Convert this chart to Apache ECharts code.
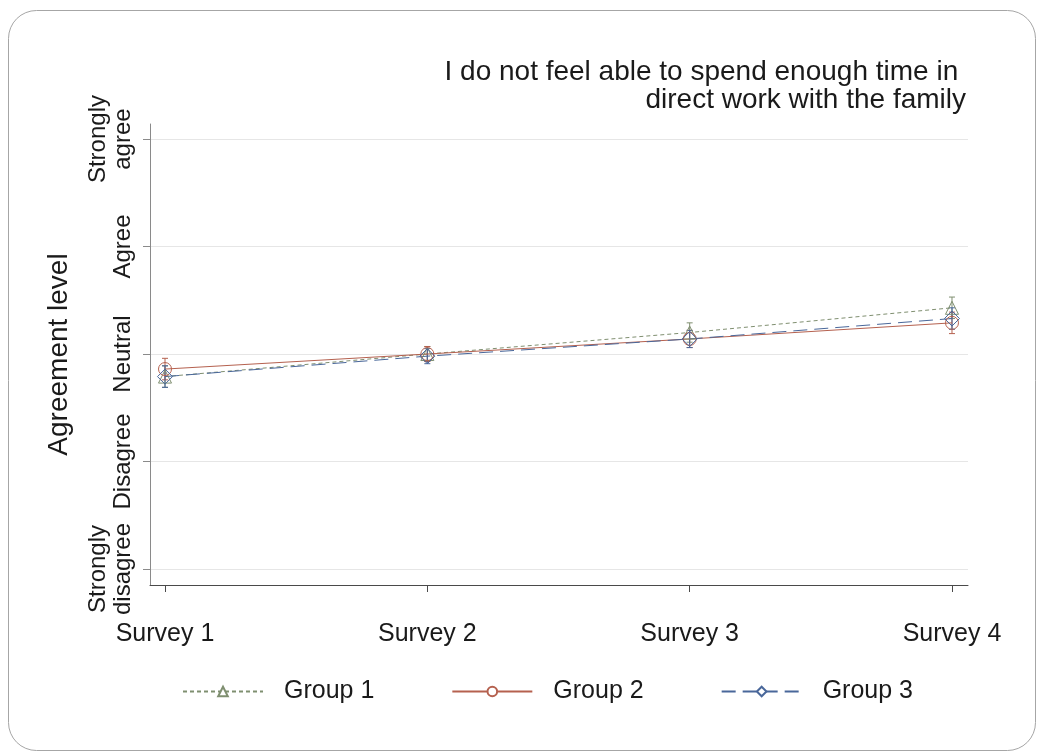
<!DOCTYPE html>
<html>
<head>
<meta charset="utf-8">
<script src="https://cdn.jsdelivr.net/npm/echarts@6/dist/echarts.min.js"></script>
<style>
  html, body { margin: 0; padding: 0; background: #fff; }
  #chart { width: 1037px; height: 753px; }
</style>
</head>
<body>
<div id="chart"></div>
<script>
// Survey waves and agreement scale
const surveys = ['Survey 1', 'Survey 2', 'Survey 3', 'Survey 4'];
const levelLabels = ['Strongly\ndisagree', 'Disagree', 'Neutral', 'Agree', 'Strongly\nagree'];
const levelValues = [1, 2, 3, 4, 5];
const chartTitle = 'I do not feel able to spend enough time in \ndirect work with the family';

// Mean agreement per group and survey, with confidence half-widths
const group1Mean = [2.79, 3.00, 3.20, 3.43];
const group1Err  = [0.10, 0.07, 0.09, 0.10];
const group2Mean = [2.86, 3.00, 3.14, 3.29];
const group2Err  = [0.10, 0.07, 0.08, 0.10];
const group3Mean = [2.79, 2.98, 3.14, 3.33];
const group3Err  = [0.10, 0.07, 0.08, 0.10];

const FONT = '"Liberation Sans", Arial, Helvetica, sans-serif';
const TEXT = '#1a1a1a';

const groups = [
  { name: 'Group 1', mean: group1Mean, err: group1Err, color: '#7f8f70', symbol: 'triangle', size: 13, dash: [4, 3] },
  { name: 'Group 2', mean: group2Mean, err: group2Err, color: '#b5614f', symbol: 'circle',   size: 13, dash: 'solid' },
  { name: 'Group 3', mean: group3Mean, err: group3Err, color: '#49679a', symbol: 'diamond',  size: 15, dash: [14, 7] }
];

const xPos = surveys.map((s, i) => i + 1);

function errorBars(color) {
  return function (params, api) {
    const x = api.value(0);
    const lo = api.coord([x, api.value(1)]);
    const hi = api.coord([x, api.value(2)]);
    const cap = 3;
    const style = { stroke: color, lineWidth: 1, fill: null };
    return {
      type: 'group',
      children: [
        { type: 'line', shape: { x1: lo[0], y1: lo[1], x2: hi[0], y2: hi[1] }, style: style },
        { type: 'line', shape: { x1: lo[0] - cap, y1: lo[1], x2: lo[0] + cap, y2: lo[1] }, style: style },
        { type: 'line', shape: { x1: hi[0] - cap, y1: hi[1], x2: hi[0] + cap, y2: hi[1] }, style: style }
      ]
    };
  };
}

const series = [];
groups.forEach(g => {
  series.push({
    name: g.name + ' CI',
    type: 'custom',
    renderItem: errorBars(g.color),
    data: xPos.map((x, i) => [x, g.mean[i] - g.err[i], g.mean[i] + g.err[i]]),
    encode: { x: 0, y: [1, 2] },
    silent: true,
    z: 2
  });
});
groups.forEach(g => {
  series.push({
    name: g.name,
    type: 'line',
    data: xPos.map((x, i) => [x, g.mean[i]]),
    symbol: g.symbol,
    symbolSize: g.size,
    showSymbol: true,
    color: g.color,
    itemStyle: { color: 'rgba(255,255,255,0)', borderColor: g.color, borderWidth: 1 },
    lineStyle: { color: g.color, width: 1, type: g.dash },
    emphasis: { disabled: true },
    silent: true,
    z: 3
  });
});

const chart = echarts.init(document.getElementById('chart'), null, { renderer: 'canvas' });
chart.setOption({
  animation: false,
  backgroundColor: '#ffffff',
  textStyle: { fontFamily: FONT },
  graphic: [
    {
      type: 'rect',
      silent: true,
      z: -10,
      shape: { x: 8.5, y: 10.5, width: 1027, height: 740, r: 28 },
      style: { fill: null, stroke: '#a6a6a6', lineWidth: 1 }
    },
    {
      type: 'text',
      silent: true,
      x: 966,
      y: 58,
      style: {
        text: chartTitle,
        align: 'right',
        verticalAlign: 'top',
        font: '28px ' + FONT,
        lineHeight: 28,
        fill: TEXT
      }
    }
  ],
  grid: { left: 150, right: 69, top: 124, bottom: 168, containLabel: false },
  legend: {
    data: groups.map(g => g.name),
    bottom: 44,
    left: 177,
    itemWidth: 80,
    itemHeight: 12,
    itemGap: 77,
    itemStyle: { color: '#ffffff' },
    textStyle: { fontFamily: FONT, fontSize: 25, color: TEXT, padding: [0, 0, 0, 16] },
    selectedMode: false
  },
  xAxis: {
    type: 'value',
    min: 0.9428,
    max: 4.061,
    axisLine: { show: true, onZero: false, lineStyle: { color: '#4a4a4a', width: 1 } },
    axisTick: { show: true, length: 7, customValues: xPos, lineStyle: { color: '#4a4a4a' } },
    axisLabel: {
      customValues: xPos,
      formatter: v => surveys[Math.round(v) - 1],
      fontFamily: FONT, fontSize: 25, color: TEXT, margin: 37
    },
    splitLine: { show: false }
  },
  yAxis: {
    type: 'value',
    min: 0.851,
    max: 5.14,
    name: 'Agreement level',
    nameLocation: 'middle',
    nameGap: 77,
    nameTextStyle: { fontFamily: FONT, fontSize: 28, color: TEXT },
    axisLine: { show: true, onZero: false, lineStyle: { color: '#8a8a8a', width: 1 } },
    axisTick: { show: true, length: 7, customValues: levelValues, lineStyle: { color: '#8a8a8a' } },
    axisLabel: {
      customValues: levelValues,
      rotate: 90,
      formatter: v => levelLabels[Math.round(v) - 1],
      fontFamily: FONT, fontSize: 24, color: TEXT, margin: 14, lineHeight: 25
    },
    splitLine: { show: true, lineStyle: { color: '#e6e6e6', width: 1 } }
  },
  series: series
});
</script>
</body>
</html>
